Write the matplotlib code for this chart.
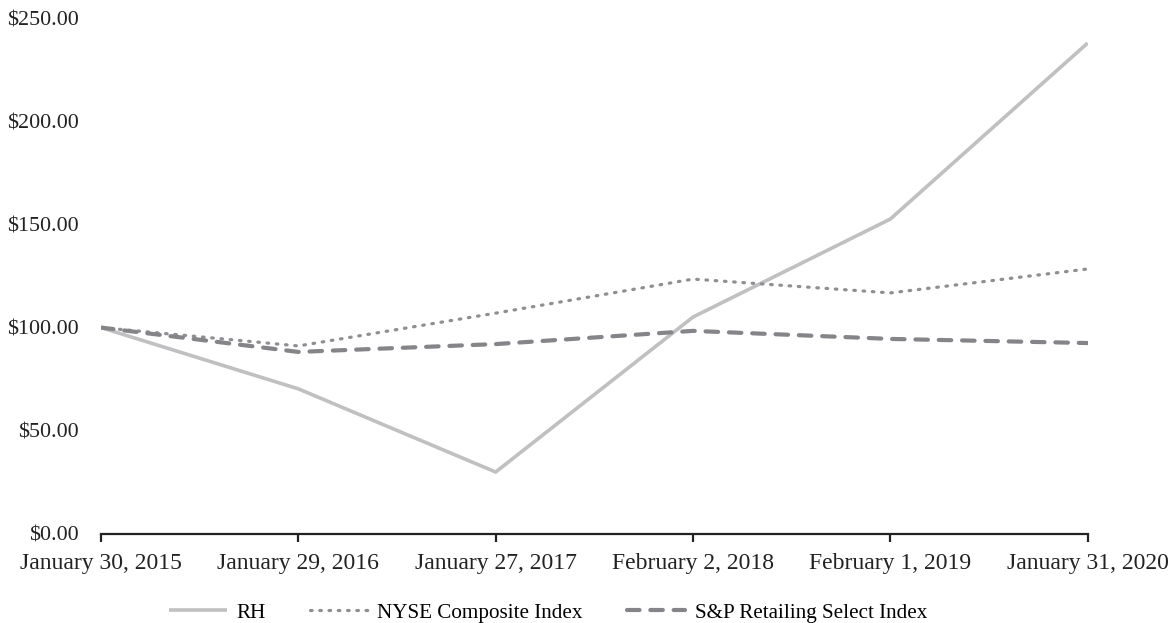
import matplotlib
matplotlib.use("Agg")
import matplotlib.pyplot as plt
from matplotlib.ticker import FuncFormatter

dates = ["January 30, 2015", "January 29, 2016", "January 27, 2017",
         "February 2, 2018", "February 1, 2019", "January 31, 2020"]
rh = [100.0, 70.3, 30.0, 105.1, 152.6, 237.9]
nyse = [100.0, 91.1, 107.0, 123.5, 116.8, 128.4]
sp_retail = [100.0, 88.2, 92.0, 98.4, 94.5, 92.5]

plt.rcParams['font.family'] = ['Liberation Serif', 'DejaVu Serif']

fig = plt.figure(figsize=(11.76, 6.23), dpi=100)
ax = fig.add_axes([0.0859, 0.143, 0.839, 0.828])

x = range(len(dates))
ax.plot(x, rh, color='#c0c0c2', lw=2.6, solid_capstyle='butt', label='RH')
ax.plot(x, nyse, color='#8f8f93', lw=2.3, linestyle=(0, (0.5, 2.4)),
        dash_capstyle='round', label='NYSE Composite Index')
ax.plot(x, sp_retail, color='#858589', lw=3.0, linestyle=(0, (3.0, 2.6)),
        dash_capstyle='round', label='S&P Retailing Select Index')

ax.set_xlim(0, len(dates) - 1)
ax.set_ylim(0, 250)
ax.set_yticks([0, 50, 100, 150, 200, 250])
ax.yaxis.set_major_formatter(FuncFormatter(lambda v, p: "${:.2f}".format(v)))
ax.set_xticks(list(x))
ax.set_xticklabels(dates)

for s in ['top', 'right', 'left']:
    ax.spines[s].set_visible(False)
ax.spines['bottom'].set_linewidth(1.6)
ax.spines['bottom'].set_color('#222222')
ax.tick_params(axis='y', length=0, pad=16, labelsize=15.8, colors='#222222')
ax.tick_params(axis='x', length=5.5, width=1.6, direction='out', pad=8,
               labelsize=17, colors='#222222')

ax.legend(loc='center', bbox_to_anchor=(0.453, -0.153), ncol=3,
          frameon=False, fontsize=15.2, handlelength=2.75, columnspacing=2.1,
          handletextpad=0.45)

fig.savefig('out.png', dpi=100)
